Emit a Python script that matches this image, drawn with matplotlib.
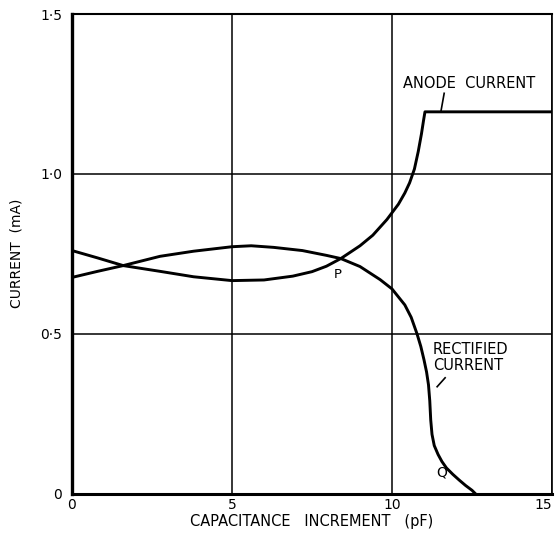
import matplotlib
matplotlib.use("Agg")
import matplotlib.pyplot as plt

# values
anode_x = [0, 0.8, 1.6, 2.75, 3.8, 5.0, 6.0, 6.9, 7.5, 7.95, 8.4, 9.0, 9.4, 9.84,
           10.2, 10.4, 10.55, 10.7, 10.82, 10.92, 10.99, 11.03, 15]
anode_y = [0.760, 0.737, 0.713, 0.695, 0.678, 0.666, 0.668, 0.680, 0.694, 0.711, 0.735,
           0.775, 0.808, 0.857, 0.905, 0.940, 0.972, 1.015, 1.070, 1.125, 1.170,
           1.194, 1.194]

rect_x = [0, 0.8, 1.6, 2.75, 3.8, 5.0, 5.6, 6.3, 7.2, 7.95, 8.4, 9.0, 9.63,
          10.0, 10.4, 10.6, 10.78, 10.9, 11.0, 11.08, 11.14, 11.18, 11.21, 11.25,
          11.32, 11.44, 11.56, 11.7, 11.9, 12.1, 12.3, 12.5, 12.6]
rect_y = [0.676, 0.695, 0.713, 0.742, 0.758, 0.772, 0.775, 0.770, 0.760, 0.745,
          0.735, 0.710, 0.669, 0.640, 0.590, 0.551, 0.5, 0.460, 0.418, 0.380,
          0.340, 0.290, 0.230, 0.185, 0.150, 0.122, 0.100, 0.080, 0.060, 0.042,
          0.025, 0.010, 0]

xticks = [0, 5, 10, 15]
xtick_labels = ["0", "5", "10", "15"]
yticks = [0, 0.5, 1.0, 1.5]
ytick_labels = ["0", "0·5", "1·0", "1·5"]

fig = plt.figure(figsize=(5.59, 5.33), dpi=100)
ax = fig.add_axes([0.1288, 0.0741, 0.8587, 0.8996])

ax.plot(anode_x, anode_y, color="black", lw=2.1, solid_joinstyle="round")
ax.plot(rect_x, rect_y, color="black", lw=2.1, solid_joinstyle="round")

ax.set_xlim(0, 15)
ax.set_ylim(0, 1.5)
ax.set_xticks(xticks)
ax.set_xticklabels(xtick_labels)
ax.set_yticks(yticks)
ax.set_yticklabels(ytick_labels)
ax.tick_params(length=0, labelsize=10)
ax.tick_params(axis="x", pad=3)
ax.tick_params(axis="y", pad=7)
ax.get_xticklabels()[-1].set_horizontalalignment("right")
ax.grid(True, color="black", lw=1.1)

ax.spines["left"].set_linewidth(2.4)
ax.spines["bottom"].set_linewidth(2.2)
ax.spines["top"].set_linewidth(1.5)
ax.spines["right"].set_linewidth(1.2)

ax.set_xlabel("CAPACITANCE   INCREMENT   (pF)", fontsize=10.5, labelpad=2)
ax.set_ylabel("CURRENT  (mA)", fontsize=10, labelpad=12)

ax.text(12.4, 1.284, "ANODE  CURRENT", fontsize=10.5, ha="center", va="center")
ax.plot([11.63, 11.53], [1.252, 1.196], color="black", lw=1.2)
ax.text(11.28, 0.425, "RECTIFIED\nCURRENT", fontsize=10.5, ha="left",
        va="center", linespacing=1.1)
ax.plot([11.66, 11.41], [0.362, 0.334], color="black", lw=1.2)
ax.text(8.31, 0.685, "P", fontsize=9.5, ha="center", va="center")
ax.text(11.56, 0.067, "Q", fontsize=10, ha="center", va="center")

fig.savefig("out.png", dpi=100)
